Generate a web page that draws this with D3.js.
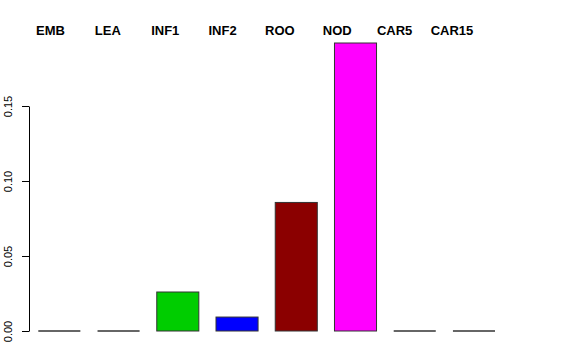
<!DOCTYPE html>
<html lang="en">
<head>
<meta charset="utf-8">
<title>Barplot</title>
<script src="https://cdn.jsdelivr.net/npm/d3@7"></script>
<style>
  body { margin: 0; background: #fff; }
  svg text { font-family: "Liberation Sans", Arial, sans-serif; }
</style>
</head>
<body>
<script>
// data
var categories = ["EMB", "LEA", "INF1", "INF2", "ROO", "NOD", "CAR5", "CAR15"];
var values = [0, 0, 0.026, 0.0093, 0.0857, 0.192, 0, 0];
var colors = ["#000000", "#ff0000", "#00cd00", "#0000ff", "#8b0000", "#ff00ff", "#000000", "#000000"];
var yTicks = [0, 0.05, 0.10, 0.15];

var w = 576, h = 360;

var svg = d3.select("body").append("svg")
  .attr("width", w)
  .attr("height", h);

var x = d3.scaleBand()
  .domain(categories)
  .range([38.3, 495])
  .paddingInner(0.29)
  .paddingOuter(0);

var y = d3.scaleLinear()
  .domain([0, 0.15])
  .range([331, 106]);

// labels sit on their own, slightly narrower spacing
var xLab = d3.scalePoint()
  .domain(categories)
  .range([50.5, 452]);

// bars (zero bars still get their outline, drawn as a flat line)
svg.selectAll("rect.bar")
  .data(values)
  .enter()
  .append("rect")
  .attr("class", "bar")
  .attr("x", function (d, i) { return x(categories[i]); })
  .attr("y", function (d) { return y(d); })
  .attr("width", x.bandwidth())
  .attr("height", function (d) { return y(0) - y(d); })
  .attr("fill", function (d, i) { return colors[i]; })
  .attr("stroke", "#333")
  .attr("stroke-width", 1);

svg.selectAll("line.zero")
  .data(values.map(function (d, i) { return { v: d, c: categories[i] }; })
    .filter(function (d) { return d.v === 0; }))
  .enter()
  .append("line")
  .attr("class", "zero")
  .attr("x1", function (d) { return x(d.c); })
  .attr("x2", function (d) { return x(d.c) + x.bandwidth(); })
  .attr("y1", y(0))
  .attr("y2", y(0))
  .attr("stroke", "#333")
  .attr("stroke-width", 1.5);

// y axis
var yAxis = d3.axisLeft(y)
  .tickValues(yTicks)
  .tickFormat(d3.format(".2f"))
  .tickSize(7)
  .tickSizeOuter(0);

var gy = svg.append("g")
  .attr("transform", "translate(29,0)")
  .call(yAxis);

gy.select(".domain").attr("stroke", "#000");
gy.selectAll(".tick line").attr("stroke", "#000");
gy.selectAll(".tick text")
  .attr("font-size", "11px")
  .attr("fill", "#000")
  .attr("transform", "rotate(-90)")
  .attr("x", 0)
  .attr("y", -17)
  .attr("dy", 0)
  .attr("text-anchor", "middle");

// category labels at the top
svg.selectAll("text.cat")
  .data(categories)
  .enter()
  .append("text")
  .attr("class", "cat")
  .text(function (d) { return d; })
  .attr("x", function (d) { return xLab(d); })
  .attr("y", 35)
  .attr("font-size", "13px")
  .attr("font-weight", "bold")
  .attr("text-anchor", "middle")
  .attr("fill", "#000");
</script>
</body>
</html>
